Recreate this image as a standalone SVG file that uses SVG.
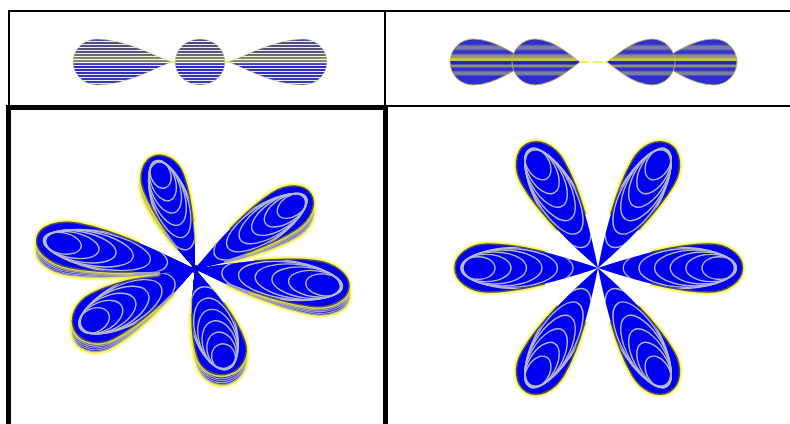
<svg xmlns="http://www.w3.org/2000/svg" xmlns:xlink="http://www.w3.org/1999/xlink" width="790" height="424" viewBox="0 0 790 424">
  <style>
    path, ellipse, line, rect { vector-effect: non-scaling-stroke; }
    .grid { fill: none; stroke: #000; stroke-width: 2; }
    .thick { fill: none; stroke: #000; stroke-width: 5; }
    .glow { fill: none; stroke: #f4ef1c; stroke-width: 4.5; filter: url(#soft); }
    .body { fill: #0000f0; stroke: none; }
    .edge { fill: none; stroke: #4a4a66; stroke-width: 1.5; }
    .sf { fill: #0000f0; stroke: none; }
    .ss { fill: none; stroke: #a4a4c0; stroke-width: 1.2; }
    .ring { fill: none; stroke: #b8b8cc; stroke-width: 1.4; }
    .rim { fill: none; stroke: #dcd86a; stroke-width: 0.9; opacity: 0.55; }
  </style>
  <defs>
    <filter id="soft" x="-20%" y="-20%" width="140%" height="140%">
      <feGaussianBlur stdDeviation="1"/>
    </filter>
    <!-- generic lobe: tip at origin, pointing +x, length 143, half-width 25.5 -->
    <path id="lobe" vector-effect="non-scaling-stroke" d="M0,0 C30,-10.8 75,-25.5 110,-25.5 A33,25.5 0 0 1 110,25.5 C75,25.5 30,10.8 0,0 Z"/>
    <!-- outline of the rounded outer part only (no lines into the centre) -->
    <path id="capEdge" vector-effect="non-scaling-stroke" d="M53.1,-16.8 C72.5,-21.8 92.5,-25.5 110,-25.5 A33,25.5 0 0 1 110,25.5 C92.5,25.5 72.5,21.8 53.1,16.8"/>
    <!-- longer outline for the extruded layers -->
    <path id="layerEdge" vector-effect="non-scaling-stroke" d="M30.4,-10.3 C56.1,-18.3 85.5,-25.5 110,-25.5 A33,25.5 0 0 1 110,25.5 C85.5,25.5 56.1,18.3 30.4,10.3"/>
    <clipPath id="lobeClip"><use href="#lobe"/></clipPath>
    <g id="rings" class="ring">
      <ellipse vector-effect="non-scaling-stroke" cx="120" cy="0" rx="17" ry="12"/>
      <ellipse vector-effect="non-scaling-stroke" cx="112" cy="0" rx="25" ry="14.5"/>
      <ellipse vector-effect="non-scaling-stroke" cx="104" cy="0" rx="32.5" ry="17"/>
      <ellipse vector-effect="non-scaling-stroke" cx="96" cy="0" rx="40" ry="19"/>
      <ellipse vector-effect="non-scaling-stroke" cx="88" cy="0" rx="47.5" ry="20.5"/>
      <ellipse vector-effect="non-scaling-stroke" cx="80" cy="0" rx="55" ry="22"/>
    </g>
    <!-- one extruded layer of a stacked lobe -->
    <g id="layer">
      <use href="#lobe" class="sf"/>
      <use href="#layerEdge" class="ss"/>
    </g>
    <!-- bottom layer with its glow -->
    <g id="base">
      <use href="#layerEdge" class="glow"/>
      <use href="#lobe" class="sf"/>
      <use href="#layerEdge" class="ss"/>
    </g>
    <!-- face of a lobe -->
    <g id="face">
      <use href="#capEdge" class="glow"/>
      <use href="#lobe" class="body"/>
      <use href="#rings" clip-path="url(#lobeClip)"/>
      <use href="#capEdge" class="edge"/>
    </g>
    <!-- striped lobes, upper left cell -->
    <clipPath id="tlClip">
      <path d="M73,62 A24,23 0 0 1 97,39 C128,40 154,56 172,62 C154,68 128,85 97,85 A24,23 0 0 1 73,62 Z"/>
      <ellipse cx="200" cy="62" rx="25" ry="23"/>
      <path d="M327,62 A24,23 0 0 0 303,39 C272,40 246,56 228,62 C246,68 272,85 303,85 A24,23 0 0 0 327,62 Z"/>
    </clipPath>
    <linearGradient id="tlGrad" gradientUnits="userSpaceOnUse" x1="0" y1="39" x2="0" y2="86">
      <stop offset="0" stop-color="#4a4a8a"/>
      <stop offset="0.3" stop-color="#56567a"/>
      <stop offset="0.44" stop-color="#9a9a58"/>
      <stop offset="0.5" stop-color="#747490"/>
      <stop offset="0.56" stop-color="#2828c4"/>
      <stop offset="0.8" stop-color="#3434b4"/>
      <stop offset="1" stop-color="#4040c0"/>
    </linearGradient>
    <pattern id="stripes" patternUnits="userSpaceOnUse" x="0" y="0" width="8" height="3">
      <rect x="0" y="2" width="8" height="1" fill="#fff" opacity="0.9"/>
    </pattern>
    <!-- banded lobes, upper right cell -->
    <linearGradient id="trGrad" gradientUnits="userSpaceOnUse" x1="0" y1="39" x2="0" y2="85">
      <stop offset="0" stop-color="#2c2cd0"/>
      <stop offset="0.11" stop-color="#3030cc"/>
      <stop offset="0.16" stop-color="#7c7ca0"/>
      <stop offset="0.21" stop-color="#7c7ca0"/>
      <stop offset="0.26" stop-color="#3434d0"/>
      <stop offset="0.31" stop-color="#3434d0"/>
      <stop offset="0.35" stop-color="#8c8c84"/>
      <stop offset="0.40" stop-color="#96966e"/>
      <stop offset="0.43" stop-color="#c8c850"/>
      <stop offset="0.47" stop-color="#c4c450"/>
      <stop offset="0.49" stop-color="#2020c8"/>
      <stop offset="0.54" stop-color="#2020c8"/>
      <stop offset="0.57" stop-color="#929278"/>
      <stop offset="0.60" stop-color="#929278"/>
      <stop offset="0.63" stop-color="#3030cc"/>
      <stop offset="0.68" stop-color="#3030cc"/>
      <stop offset="0.72" stop-color="#7e7ea0"/>
      <stop offset="0.77" stop-color="#7e7ea0"/>
      <stop offset="0.81" stop-color="#2c2cd0"/>
      <stop offset="1" stop-color="#2e2ed0"/>
    </linearGradient>
  </defs>

  <rect width="790" height="424" fill="#fff"/>

  <!-- table rules -->
  <g id="table">
    <line class="grid" x1="8" y1="11" x2="790" y2="11"/>
    <line class="grid" x1="9" y1="10" x2="9" y2="107"/>
    <line class="grid" x1="385" y1="10" x2="385" y2="107"/>
    <line class="grid" x1="385" y1="106" x2="790" y2="106"/>
    <rect class="thick" x="8.5" y="107.5" width="377" height="330"/>
  </g>

  <!-- upper left: striped lobes -->
  <g id="striped-lobes">
    <g clip-path="url(#tlClip)">
      <rect x="60" y="36" width="280" height="52" fill="url(#tlGrad)"/>
      <rect x="60" y="36" width="280" height="52" fill="url(#stripes)"/>
    </g>
    <path class="rim" d="M73,62 A24,23 0 0 1 97,39 C128,40 154,56 172,62 C154,68 128,85 97,85 A24,23 0 0 1 73,62 Z"/>
    <ellipse class="rim" cx="200" cy="62" rx="25" ry="23"/>
    <path class="rim" d="M327,62 A24,23 0 0 0 303,39 C272,40 246,56 228,62 C246,68 272,85 303,85 A24,23 0 0 0 327,62 Z"/>
    <line x1="171" y1="62" x2="176" y2="62" stroke="#f0ec30" stroke-width="1.5"/>
    <line x1="224" y1="62" x2="229" y2="62" stroke="#f0ec30" stroke-width="1.5"/>
  </g>

  <!-- upper right: banded lobe pairs -->
  <g id="banded-lobes">
    <line x1="580" y1="62" x2="607" y2="62" stroke="#eeea30" stroke-width="1.6" stroke-dasharray="10,3"/>
    <g id="pair-left" fill="url(#trGrad)" stroke="#b8b468" stroke-width="0.9">
      <path d="M450,62 A23,23 0 0 1 473,39 C495,39 515,55 530,62 C515,69 495,85 473,85 A23,23 0 0 1 450,62 Z"/>
      <path d="M512,62 A23,23 0 0 1 535,39 C555,40 570,55 580,62 C570,69 555,84 535,85 A23,23 0 0 1 512,62 Z"/>
    </g>
    <g id="pair-right" fill="url(#trGrad)" stroke="#b8b468" stroke-width="0.9">
      <path d="M737,62 A23,23 0 0 0 714,39 C692,39 672,55 657,62 C672,69 692,85 714,85 A23,23 0 0 0 737,62 Z"/>
      <path d="M675,62 A23,23 0 0 0 652,39 C632,40 617,55 607,62 C617,69 632,84 652,85 A23,23 0 0 0 675,62 Z"/>
    </g>
  </g>

  <!-- lower left: six extruded lobes; each layer is sheared downward, growing with distance from the centre -->
  <g id="star-left">
    <g id="l-top">
      <use href="#base" transform="translate(195,269) matrix(1,-.0285,0,.9217,0,0) rotate(-110) scale(.839,.84)"/>
      <use href="#layer" transform="translate(195,269) matrix(1,-.0228,0,.9374,0,0) rotate(-110) scale(.839,.84)"/>
      <use href="#layer" transform="translate(195,269) matrix(1,-.0171,0,.9530,0,0) rotate(-110) scale(.839,.84)"/>
      <use href="#layer" transform="translate(195,269) matrix(1,-.0114,0,.9687,0,0) rotate(-110) scale(.839,.84)"/>
      <use href="#layer" transform="translate(195,269) matrix(1,-.0057,0,.9843,0,0) rotate(-110) scale(.839,.84)"/>
      <use href="#face" transform="translate(195,269) rotate(-110) scale(.839,.84)"/>
    </g>
    <g id="l-upper-right">
      <use href="#base" transform="translate(195,269) matrix(1,.0608,0,.9605,0,0) rotate(-33) scale(.965,.86)"/>
      <use href="#layer" transform="translate(195,269) matrix(1,.0486,0,.9684,0,0) rotate(-33) scale(.965,.86)"/>
      <use href="#layer" transform="translate(195,269) matrix(1,.0365,0,.9763,0,0) rotate(-33) scale(.965,.86)"/>
      <use href="#layer" transform="translate(195,269) matrix(1,.0243,0,.9842,0,0) rotate(-33) scale(.965,.86)"/>
      <use href="#layer" transform="translate(195,269) matrix(1,.0122,0,.9921,0,0) rotate(-33) scale(.965,.86)"/>
      <use href="#face" transform="translate(195,269) rotate(-33) scale(.965,.86)"/>
    </g>
    <g id="l-right">
      <use href="#base" transform="translate(195,269) matrix(1,.0640,0,1.0079,0,0) rotate(7) scale(1.084,.9)"/>
      <use href="#layer" transform="translate(195,269) matrix(1,.0512,0,1.0063,0,0) rotate(7) scale(1.084,.9)"/>
      <use href="#layer" transform="translate(195,269) matrix(1,.0384,0,1.0047,0,0) rotate(7) scale(1.084,.9)"/>
      <use href="#layer" transform="translate(195,269) matrix(1,.0256,0,1.0031,0,0) rotate(7) scale(1.084,.9)"/>
      <use href="#layer" transform="translate(195,269) matrix(1,.0128,0,1.0016,0,0) rotate(7) scale(1.084,.9)"/>
      <use href="#face" transform="translate(195,269) rotate(7) scale(1.084,.9)"/>
    </g>
    <g id="l-lower-right">
      <use href="#base" transform="translate(195,269) matrix(1,.0281,0,1.0865,0,0) rotate(72) scale(.769,.98)"/>
      <use href="#layer" transform="translate(195,269) matrix(1,.0225,0,1.0692,0,0) rotate(72) scale(.769,.98)"/>
      <use href="#layer" transform="translate(195,269) matrix(1,.0169,0,1.0519,0,0) rotate(72) scale(.769,.98)"/>
      <use href="#layer" transform="translate(195,269) matrix(1,.0112,0,1.0346,0,0) rotate(72) scale(.769,.98)"/>
      <use href="#layer" transform="translate(195,269) matrix(1,.0056,0,1.0173,0,0) rotate(72) scale(.769,.98)"/>
      <use href="#face" transform="translate(195,269) rotate(72) scale(.769,.98)"/>
    </g>
    <g id="l-lower-left">
      <use href="#base" transform="translate(195,269) matrix(1,-.0660,0,1.0336,0,0) rotate(153) scale(.944,.98)"/>
      <use href="#layer" transform="translate(195,269) matrix(1,-.0528,0,1.0269,0,0) rotate(153) scale(.944,.98)"/>
      <use href="#layer" transform="translate(195,269) matrix(1,-.0396,0,1.0202,0,0) rotate(153) scale(.944,.98)"/>
      <use href="#layer" transform="translate(195,269) matrix(1,-.0264,0,1.0135,0,0) rotate(153) scale(.944,.98)"/>
      <use href="#layer" transform="translate(195,269) matrix(1,-.0132,0,1.0067,0,0) rotate(153) scale(.944,.98)"/>
      <use href="#face" transform="translate(195,269) rotate(153) scale(.944,.98)"/>
    </g>
    <g id="l-left">
      <use href="#base" transform="translate(195,269) matrix(1,-.0610,0,.9882,0,0) rotate(-169) scale(1.126,.88)"/>
      <use href="#layer" transform="translate(195,269) matrix(1,-.0488,0,.9905,0,0) rotate(-169) scale(1.126,.88)"/>
      <use href="#layer" transform="translate(195,269) matrix(1,-.0366,0,.9929,0,0) rotate(-169) scale(1.126,.88)"/>
      <use href="#layer" transform="translate(195,269) matrix(1,-.0244,0,.9953,0,0) rotate(-169) scale(1.126,.88)"/>
      <use href="#layer" transform="translate(195,269) matrix(1,-.0122,0,.9976,0,0) rotate(-169) scale(1.126,.88)"/>
      <use href="#face" transform="translate(195,269) rotate(-169) scale(1.126,.88)"/>
    </g>
    <circle id="l-core" cx="195" cy="269" r="4" fill="#0000c8"/>
  </g>

  <!-- lower right: six flat lobes -->
  <g id="star-right">
    <use id="r-right" href="#face" transform="translate(598,268) rotate(0) scale(1.01,.94)"/>
    <use id="r-lower-right" href="#face" transform="translate(598,268) rotate(60) scale(1,.94)"/>
    <use id="r-lower-left" href="#face" transform="translate(598,268) rotate(120) scale(1,.94)"/>
    <use id="r-left" href="#face" transform="translate(598,268) rotate(180) scale(1,.94)"/>
    <use id="r-upper-left" href="#face" transform="translate(598,268) rotate(240) scale(1,.94)"/>
    <use id="r-upper-right" href="#face" transform="translate(598,268) rotate(300) scale(1,.94)"/>
  </g>
</svg>
